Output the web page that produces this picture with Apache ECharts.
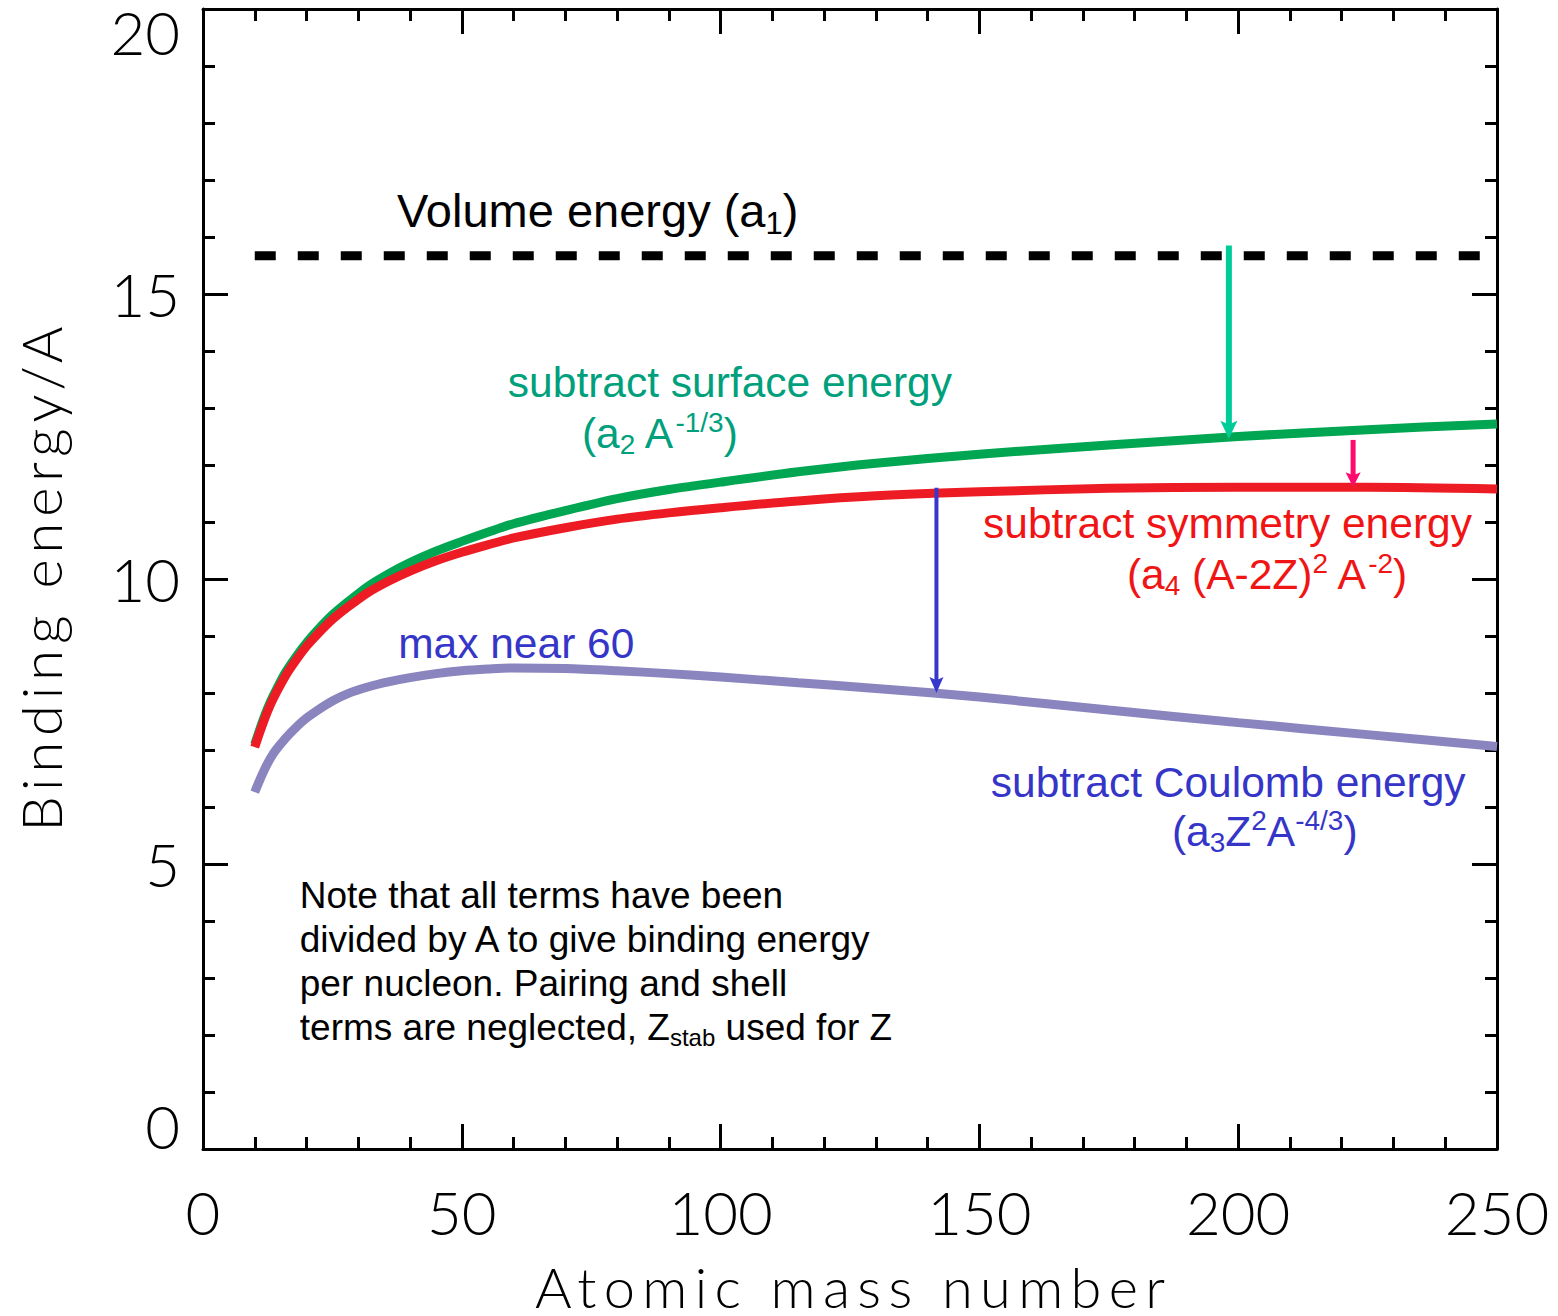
<!DOCTYPE html>
<html><head><meta charset="utf-8">
<script src="https://cdn.jsdelivr.net/npm/echarts@6/dist/echarts.min.js"></script>
<style>html,body{margin:0;padding:0;background:#fff}#chart{width:1558px;height:1316px}</style>
</head><body><div id="chart"></div>
<script>
// ---------- data ----------
const massNumbers   = [10, 11, 12, 13, 14, 16, 18, 20, 22, 25, 28, 32, 36, 40, 45, 50, 55, 60, 70, 80, 90, 100, 115, 130, 150, 175, 200, 225, 250];
const afterSurface  = [7.10, 7.37, 7.62, 7.84, 8.03, 8.37, 8.64, 8.88, 9.09, 9.37, 9.60, 9.88, 10.10, 10.29, 10.49, 10.66, 10.82, 10.97, 11.20, 11.41, 11.57, 11.70, 11.88, 12.03, 12.19, 12.35, 12.50, 12.62, 12.72];
const afterSymmetry = [7.05, 7.32, 7.57, 7.79, 7.98, 8.31, 8.58, 8.82, 9.02, 9.29, 9.51, 9.77, 9.97, 10.14, 10.32, 10.47, 10.60, 10.72, 10.90, 11.05, 11.16, 11.25, 11.37, 11.46, 11.53, 11.59, 11.61, 11.61, 11.58];
const afterCoulomb  = [6.26, 6.48, 6.68, 6.85, 6.99, 7.21, 7.40, 7.56, 7.69, 7.86, 7.99, 8.11, 8.20, 8.27, 8.34, 8.39, 8.42, 8.44, 8.43, 8.39, 8.34, 8.28, 8.18, 8.08, 7.93, 7.70, 7.48, 7.27, 7.06];
const volumeRange   = [10, 250];
const volumeEnergy  = 15.67;
const xTicks = [0, 50, 100, 150, 200, 250];
const yTicks = [0, 5, 10, 15, 20];
// arrows: [A, start energy, tip energy]
const arrowData = [[198.2, 15.85, 12.46], [222.2, 12.44, 11.61], [141.7, 11.60, 8.00]];

// ---------- styles ----------
const arrowStyles = [
  {color: '#00cc99', width: 6, head: [17, 18]},
  {color: '#ff0a6e', width: 5, head: [15, 15]},
  {color: '#3737cc', width: 4, head: [14, 16]}
];
const AXFONT = 'Lato';
const TXFONT = '"Liberation Sans", Arial, Helvetica, sans-serif';

const zip = (xs, ys) => xs.map((x, i) => [x, ys[i]]);

const chart = echarts.init(document.getElementById('chart'), null, {renderer: 'svg', width: 1558, height: 1316});

const axisCommon = {
  axisLine: {show: true, onZero: false, lineStyle: {color: '#000', width: 3}},
  axisTick: {show: true, inside: true, length: 25, lineStyle: {color: '#000', width: 3}},
  minorTick: {show: true, splitNumber: 5, length: 12, lineStyle: {color: '#000', width: 3}},
  splitLine: {show: false}
};
const xr = {min: xTicks[0], max: xTicks[xTicks.length - 1], interval: xTicks[1] - xTicks[0]};
const yr = {min: yTicks[0], max: yTicks[yTicks.length - 1], interval: yTicks[1] - yTicks[0]};

chart.setOption({
  animation: false,
  backgroundColor: '#fff',
  grid: {left: 203, right: 61, top: 9, bottom: 167, containLabel: false, outerBoundsMode: 'none'},
  xAxis: [
    Object.assign({type: 'value', position: 'bottom'}, xr, axisCommon, {
      axisLabel: {fontFamily: AXFONT, fontWeight: 300, fontSize: 60, color: '#000', margin: 33},
      name: 'Atomic mass number', nameLocation: 'middle', nameGap: 112, nameMoveOverlap: false,
      nameTextStyle: {fontFamily: AXFONT, fontWeight: 300, fontSize: 56, lineHeight: 50, color: '#000'}
    }),
    Object.assign({type: 'value', position: 'top'}, xr, axisCommon, {axisLabel: {show: false}})
  ],
  yAxis: [
    Object.assign({type: 'value', position: 'left'}, yr, axisCommon, {
      axisLabel: {
        fontFamily: AXFONT, fontWeight: 300, fontSize: 60, lineHeight: 46, color: '#000', margin: 23,
        verticalAlignMinLabel: 'bottom', verticalAlignMaxLabel: 'top'
      },
      name: 'Binding energy/A', nameLocation: 'middle', nameGap: 135, nameRotate: 90, nameMoveOverlap: false,
      nameTextStyle: {fontFamily: AXFONT, fontWeight: 300, fontSize: 56, color: '#000'}
    }),
    Object.assign({type: 'value', position: 'right'}, yr, axisCommon, {axisLabel: {show: false}})
  ],
  series: [
    {type: 'line', name: 'volume', data: volumeRange.map(a => [a, volumeEnergy]), symbol: 'none', silent: true,
      lineStyle: {color: '#000', width: 9, type: [21, 22], cap: 'butt'}, z: 2},
    {type: 'line', name: 'surface', data: zip(massNumbers, afterSurface), symbol: 'none', smooth: 0.3, silent: true,
      lineStyle: {color: '#00a651', width: 9}, z: 3},
    {type: 'line', name: 'coulomb', data: zip(massNumbers, afterCoulomb), symbol: 'none', smooth: 0.3, silent: true,
      lineStyle: {color: '#8a84bf', width: 9}, z: 3},
    {type: 'line', name: 'symmetry', data: zip(massNumbers, afterSymmetry), symbol: 'none', smooth: 0.3, silent: true,
      lineStyle: {color: '#ed1c24', width: 9}, z: 4},
    {type: 'custom', name: 'arrows', coordinateSystem: 'cartesian2d', silent: true, z: 6,
      data: arrowData.map((a, i) => [a[0], a[1], a[2], i]),
      encode: {x: 0, y: [1, 2]},
      renderItem: function (params, api) {
        const x = api.value(0), y1 = api.value(1), y2 = api.value(2), st = arrowStyles[api.value(3)];
        const p1 = api.coord([x, y1]), p2 = api.coord([x, y2]);
        const hw = st.head[0] / 2, hl = st.head[1];
        return {type: 'group', children: [
          {type: 'line', shape: {x1: p1[0], y1: p1[1], x2: p2[0], y2: p2[1] - hl * 0.7},
            style: {stroke: st.color, lineWidth: st.width}},
          {type: 'polygon', shape: {points: [[p2[0], p2[1]], [p2[0] - hw, p2[1] - hl], [p2[0], p2[1] - hl * 0.8], [p2[0] + hw, p2[1] - hl]]},
            style: {fill: st.color}}
        ]};
      }
    }
  ]
});

// ---------- annotations ----------
function richSet(S, color, LH) {
  const d = Math.round(0.27 * S), u = Math.round(0.25 * S), s = Math.round(0.66 * S);
  return {
    n: {fontSize: S, lineHeight: LH, fill: color, fontFamily: TXFONT},
    b: {fontSize: s, lineHeight: LH - 2 * d, padding: [2 * d, 0, 0, 0], fill: color, fontFamily: TXFONT},
    p: {fontSize: s, lineHeight: LH - 2 * u, padding: [0, 0, 2 * u, 0], fill: color, fontFamily: TXFONT}
  };
}
const GREEN_T = '#00a07c', RED_T = '#f01414', BLUE_T = '#3535c8';
const annotations = [
  {at: [37.5, 16.47], text: '{n|Volume energy (a}{b|1}{n|)}', S: 47, color: '#000'},
  {at: [58.9, 13.45], text: '{n|subtract surface energy}', S: 42.5, color: GREEN_T},
  {at: [73.2, 12.55], text: '{n|(a}{b|2}{n| A}{p|-1/3}{n|)}', S: 42.5, color: GREEN_T},
  {at: [150.7, 10.98], text: '{n|subtract symmetry energy}', S: 42.5, color: RED_T},
  {at: [178.5, 10.08], text: '{n|(a}{b|4}{n| (A-2Z)}{p|2}{n| A}{p|-2}{n|)}', S: 42.5, color: RED_T},
  {at: [37.7, 8.87], text: '{n|max near 60}', S: 42.5, color: BLUE_T},
  {at: [152.2, 6.43], text: '{n|subtract Coulomb energy}', S: 42.5, color: BLUE_T},
  {at: [187.2, 5.57], text: '{n|(a}{b|3}{n|Z}{p|2}{n|A}{p|-4/3}{n|)}', S: 42.5, color: BLUE_T},
  {at: [18.7, 4.83], top: true, LH: 44, S: 37, color: '#000',
    text: '{n|Note that all terms have been}\n{n|divided by A to give binding energy}\n{n|per nucleon. Pairing and shell}\n{n|terms are neglected, Z}{b|stab}{n| used for Z}'}
];
chart.setOption({
  graphic: annotations.map(a => {
    const p = chart.convertToPixel({gridIndex: 0}, a.at);
    const LH = a.LH || Math.round(a.S * 1.3);
    return {type: 'text', x: p[0], y: p[1], silent: true, z: 10,
      style: {text: a.text, rich: richSet(a.S, a.color, LH), align: 'left', verticalAlign: a.top ? 'top' : 'middle',
        fontFamily: TXFONT, fontSize: a.S, fill: a.color}};
  })
});

// ---------- letter-spaced axis titles ----------
function spaceNames() {
  document.querySelectorAll('#chart svg text').forEach(t => {
    const c = t.textContent;
    const target = c === 'Atomic mass number' ? 630 : (c === 'Binding energy/A' ? 505 : 0);
    if (!target) return;
    t.style.letterSpacing = '0px';
    const w = t.getComputedTextLength();
    const sp = (target - w) / (c.length - 1);
    t.style.letterSpacing = sp + 'px';
    t.setAttribute('dx', (sp / 2).toFixed(1));
  });
}
chart.on('finished', spaceNames);
setTimeout(spaceNames, 50);
setTimeout(spaceNames, 300);
</script></body></html>
